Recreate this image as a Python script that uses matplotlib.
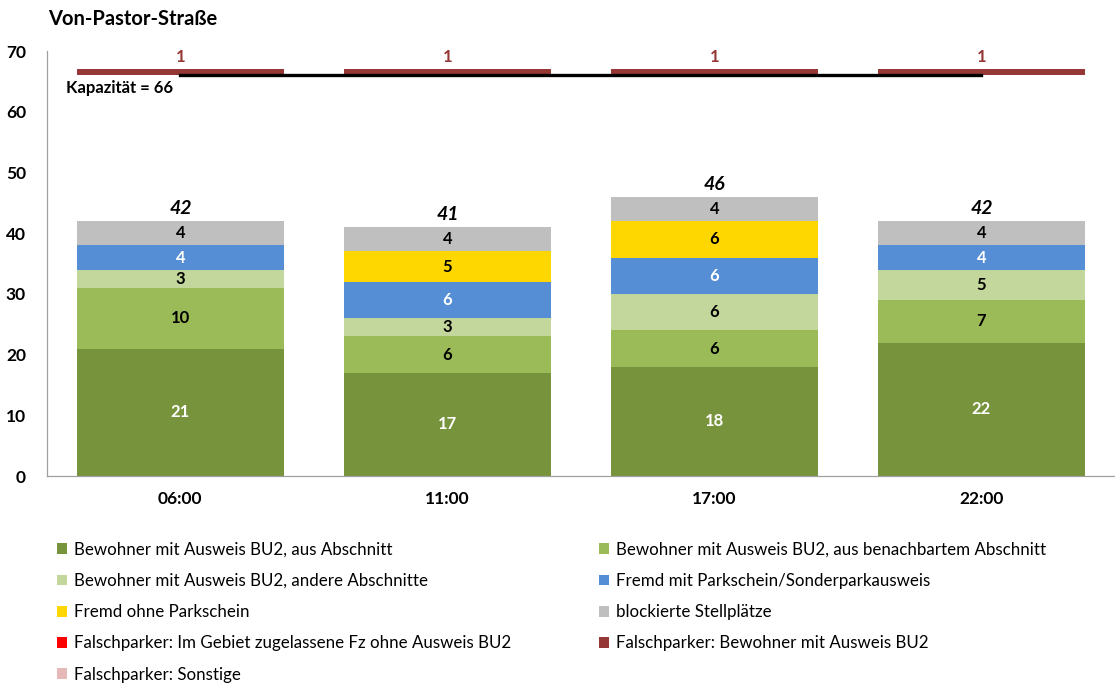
import matplotlib.pyplot as plt
import numpy as np

plt.rcParams['font.family'] = ['Lato', 'DejaVu Sans']

times = ['06:00', '11:00', '17:00', '22:00']
bew_abschnitt = [21, 17, 18, 22]
bew_nachbar = [10, 6, 6, 7]
bew_andere = [3, 3, 6, 5]
fremd_parkschein = [4, 6, 6, 4]
fremd_ohne = [0, 5, 6, 0]
blockiert = [4, 4, 4, 4]
falsch_gebiet = [0, 0, 0, 0]
falsch_bewohner = [1, 1, 1, 1]
falsch_sonstige = [0, 0, 0, 0]
capacity = 66

labels = ['Bewohner mit Ausweis BU2, aus Abschnitt',
          'Bewohner mit Ausweis BU2, aus benachbartem Abschnitt',
          'Bewohner mit Ausweis BU2, andere Abschnitte',
          'Fremd mit Parkschein/Sonderparkausweis',
          'Fremd ohne Parkschein',
          'blockierte Stellplätze',
          'Falschparker: Im Gebiet zugelassene Fz ohne Ausweis BU2',
          'Falschparker: Bewohner mit Ausweis BU2',
          'Falschparker: Sonstige']
colors = ['#77933C', '#9BBB59', '#C3D69B', '#558ED5', '#FFD700',
          '#BFBFBF', '#FF0000', '#953735', '#E6B9B8']
text_colors = ['white', 'black', 'black', 'white', 'black', 'black']

stack = [bew_abschnitt, bew_nachbar, bew_andere, fremd_parkschein, fremd_ohne, blockiert]

fig = plt.figure(figsize=(11.15, 6.87), dpi=100)
ax = fig.add_axes([0.042, 0.307, 0.958, 0.6186])

x = np.arange(len(times))
width = 0.775
bottom = np.zeros(len(times))
handles = []
for i, vals in enumerate(stack):
    vals = np.array(vals)
    b = ax.bar(x, vals, width, bottom=bottom, color=colors[i], label=labels[i])
    handles.append(b)
    for xi, v, bt in zip(x, vals, bottom):
        if v > 0:
            ax.text(xi, bt + v / 2, str(v), ha='center', va='center',
                    fontsize=12, fontweight='bold', color=text_colors[i])
    bottom = bottom + vals

for xi, t in zip(x, bottom):
    ax.text(xi, t + 0.7, str(int(t)), ha='center', va='bottom',
            fontsize=14, fontweight='bold', fontstyle='italic')

# empty series, only for the legend
handles.append(ax.bar(x, falsch_gebiet, width, bottom=bottom, color=colors[6], label=labels[6]))

# capacity line
ax.plot([x[0], x[-1]], [capacity, capacity], color='black', lw=2.4, zorder=3)
ax.text(-0.43, 64, 'Kapazität = 66', ha='left', va='center', fontsize=12, fontweight='bold')

fb = ax.bar(x, falsch_bewohner, width, bottom=capacity, color=colors[7], label=labels[7], zorder=2)
handles.append(fb)
for xi, v in zip(x, falsch_bewohner):
    ax.text(xi, capacity + v + 0.7, str(v), ha='center', va='bottom',
            fontsize=12, fontweight='bold', color=colors[7])

handles.append(ax.bar(x, falsch_sonstige, width, bottom=bottom, color=colors[8], label=labels[8]))

ax.set_xlim(-0.5, 3.5)
ax.set_ylim(0, 70)
ax.set_yticks(range(0, 71, 10))
ax.set_xticks(x)
ax.set_xticklabels(times)
ax.tick_params(length=0, labelsize=12.5)
ax.tick_params(axis='x', pad=11)
ax.tick_params(axis='y', pad=15)
for lab in ax.get_xticklabels() + ax.get_yticklabels():
    lab.set_fontweight('bold')
for s in ['top', 'right']:
    ax.spines[s].set_visible(False)
for s in ['left', 'bottom']:
    ax.spines[s].set_color('#A0A0A0')
    ax.spines[s].set_linewidth(0.9)

fig.text(0.043, 0.973, 'Von-Pastor-Straße', fontsize=14.5, fontweight='bold', va='center')

# legend, row-major order as in the original
order = [0, 2, 4, 6, 8, 1, 3, 5, 7]
fig.legend([handles[i] for i in order], [labels[i] for i in order],
           loc='upper left', bbox_to_anchor=(0.0511, 0.2116), ncol=2, frameon=False,
           borderpad=0, borderaxespad=0,
           fontsize=12.2, handlelength=0.6, handleheight=0.6, handletextpad=0.4,
           columnspacing=5.2, labelspacing=0.9)

fig.savefig('out.png', dpi=100)
